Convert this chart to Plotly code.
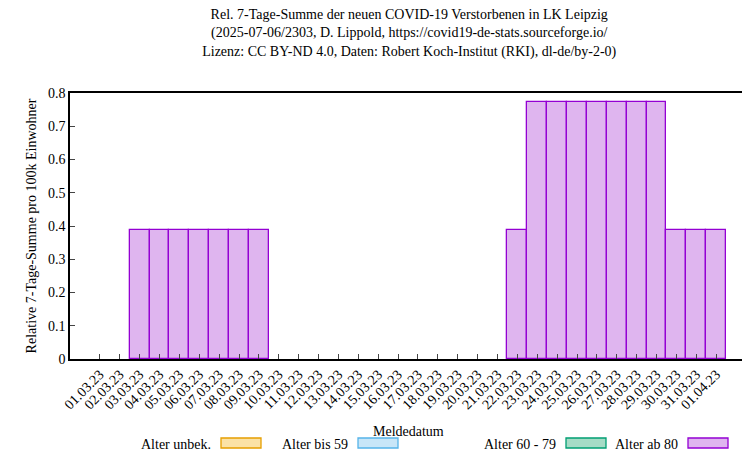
import plotly.graph_objects as go

dates = ["01.03.23","02.03.23","03.03.23","04.03.23","05.03.23","06.03.23","07.03.23","08.03.23",
         "09.03.23","10.03.23","11.03.23","12.03.23","13.03.23","14.03.23","15.03.23","16.03.23",
         "17.03.23","18.03.23","19.03.23","20.03.23","21.03.23","22.03.23","23.03.23","24.03.23",
         "25.03.23","26.03.23","27.03.23","28.03.23","29.03.23","30.03.23","31.03.23","01.04.23"]
ab80 = [0,0,0.387,0.387,0.387,0.387,0.387,0.387,0.387,0,0,0,0,0,0,0,0,0,0,0,0,
        0.387,0.774,0.774,0.774,0.774,0.774,0.774,0.774,0.387,0.387,0.387]
legend_names = ["Alter unbek.", "Alter bis 59", "Alter 60 - 79", "Alter ab 80"]
legend_fill = ["#fbe2a6", "#c8e6f8", "#a6dcc6", "#dfb5ef"]
legend_edge = ["#e69f00", "#56b4e9", "#009e73", "#9400d3"]

F = "Liberation Serif"
idx = list(range(len(dates)))
xs = [i for i, v in zip(idx, ab80) if v > 0]
ys = [v for v in ab80 if v > 0]

fig = go.Figure(go.Bar(x=xs, y=ys, width=1, marker=dict(color=legend_fill[3],
                line=dict(color=legend_edge[3], width=1.3)), showlegend=False))

fig.update_layout(
    width=750, height=450, margin=dict(l=62, r=12, t=85, b=99, autoexpand=False),
    plot_bgcolor="white", paper_bgcolor="white",
    font=dict(family=F, size=14, color="black"),
    title=dict(text="Rel. 7-Tage-Summe der neuen COVID-19 Verstorbenen in LK Leipzig<br>(2025-07-06/2303, D. Lippold, https://covid19-de-stats.sourceforge.io/<br>Lizenz: CC BY-ND 4.0, Daten: Robert Koch-Institut (RKI), dl-de/by-2-0)",
               x=0.535, xanchor="center", yref="container", y=0.975, yanchor="top", font=dict(size=14)),
    bargap=0,
)
fig.update_xaxes(range=[-1.5, 32.5], tickvals=idx, ticktext=dates, tickangle=-45, automargin=False,
                 ticks="inside", ticklen=5, showline=True, linecolor="black", linewidth=1.5,
                 mirror=True, showgrid=False, zeroline=False, tickfont=dict(size=14))
fig.update_yaxes(range=[0, 0.8], dtick=0.1, ticks="inside", ticklen=5, showline=True, automargin=False,
                 linecolor="black", linewidth=1.5, mirror=True, showgrid=False, zeroline=False,
                 title=dict(text="Relative 7-Tage-Summe pro 100k Einwohner", font=dict(size=14), standoff=8))
fig.add_annotation(text="Meldedatum", xref="paper", yref="paper", x=0.5, y=(351 - 423) / 266,
                   yanchor="middle", showarrow=False, font=dict(size=14))

text_right = [205, 342, 550, 672]
for name, fc, ec, tr in zip(legend_names, legend_fill, legend_edge, text_right):
    fig.add_annotation(text=name, xref="paper", yref="paper", x=(tr - 62) / 676, y=(351 - 436) / 266,
                       xanchor="right", yanchor="middle", showarrow=False, font=dict(size=14))
    x0 = (tr + 8 - 62) / 676
    x1 = (tr + 48 - 62) / 676
    fig.add_shape(type="rect", xref="paper", yref="paper", x0=x0, x1=x1,
                  y0=(351 - 440) / 266, y1=(351 - 430) / 266,
                  fillcolor=fc, line=dict(color=ec, width=1.3))

fig.write_html("out.html")
